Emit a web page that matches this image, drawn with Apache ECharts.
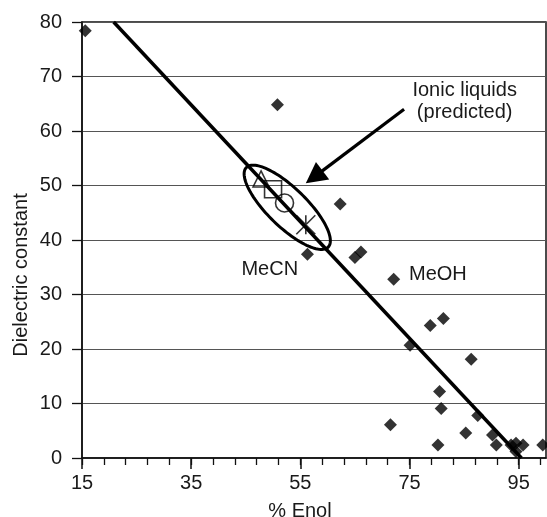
<!DOCTYPE html>
<html><head><meta charset="utf-8">
<script src="https://cdn.jsdelivr.net/npm/echarts@6/dist/echarts.min.js"></script>
<style>html,body{margin:0;padding:0;background:#fff}#c{width:547px;height:517px}</style>
</head><body><div id="c"></div>
<script>
// ---- data ----
const solventEnol = [15.6, 50.8, 62.3, 56.3, 65.0, 66.1, 72.1, 78.8, 81.2, 75.1, 86.3, 80.5, 80.8, 87.5, 71.5, 85.3, 80.2, 90.2, 90.9, 93.6, 94.5, 95.8, 94.5, 99.4];
const solventDielectric = [78.4, 64.8, 46.6, 37.4, 36.8, 37.8, 32.8, 24.3, 25.6, 20.7, 18.1, 12.2, 9.1, 7.8, 6.1, 4.6, 2.4, 4.2, 2.4, 2.4, 2.7, 2.4, 1.2, 2.4];
const fitLineX = [20.8, 95.5];
const fitLineY = [80, 0];
const ionicTriangle = [47.8, 51.2];
const ionicSquare = [50.0, 49.3];
const ionicCircle = [52.1, 46.8];
const ionicStar = [56.0, 42.8];
const ellipseCenter = [52.6, 46.0];
const ellipseAxisEnd = [45.1, 53.3];
const ellipseAxisRatio = 0.34;
const arrowFrom = [74.0, 64.0];
const arrowTo = [56.0, 50.4];
const annotationTexts = ['MeCN', 'MeOH', 'Ionic liquids', '(predicted)'];
const annotationPos = [[49.4, 34.5], [74.9, 33.6], [85.1, 67.5], [85.1, 63.4]];
const annotationAlign = ['center', 'left', 'center', 'center'];
const xLabelValues = [15, 35, 55, 75, 95];
const xTickValues = [15, 19, 23, 27, 31, 35, 39, 43, 47, 51, 55, 59, 63, 67, 71, 75, 79, 83, 87, 91, 95, 99];
const yMin = 0, yMax = 80, yStep = 10;
const xMin = 15, xMax = 100;
const xTitle = '% Enol';
const yTitle = 'Dielectric constant';

const FONT = '"Liberation Sans", Arial, Helvetica, sans-serif';
const solvents = solventEnol.map((x, i) => [x, solventDielectric[i]]);
const fit = fitLineX.map((x, i) => [x, fitLineY[i]]);

const chart = echarts.init(document.getElementById('c'), null, {renderer: 'canvas'});

function renderAnnotations(params, api) {
  const children = [];
  // ellipse
  const c = api.coord(ellipseCenter), e = api.coord(ellipseAxisEnd);
  const a = Math.hypot(e[0] - c[0], e[1] - c[1]);
  const b = a * ellipseAxisRatio;
  const ang = Math.atan2(e[1] - c[1], e[0] - c[0]);
  const pts = [];
  for (let k = 0; k < 120; k++) {
    const t = k / 120 * Math.PI * 2;
    pts.push([c[0] + a * Math.cos(t) * Math.cos(ang) - b * Math.sin(t) * Math.sin(ang),
              c[1] + a * Math.cos(t) * Math.sin(ang) + b * Math.sin(t) * Math.cos(ang)]);
  }
  children.push({type: 'polygon', shape: {points: pts}, style: {fill: 'none', stroke: '#000', lineWidth: 3}});
  // arrow
  const p0 = api.coord(arrowFrom), p1 = api.coord(arrowTo);
  const d = Math.hypot(p1[0] - p0[0], p1[1] - p0[1]);
  const ux = (p1[0] - p0[0]) / d, uy = (p1[1] - p0[1]) / d;
  const headL = 21, headW = 11;
  const bx = p1[0] - ux * headL, by = p1[1] - uy * headL;
  children.push({type: 'line', shape: {x1: p0[0], y1: p0[1], x2: bx + ux * 2, y2: by + uy * 2}, style: {stroke: '#000', lineWidth: 3.2}});
  children.push({type: 'polygon', shape: {points: [[p1[0], p1[1]], [bx - uy * headW, by + ux * headW], [bx + uy * headW, by - ux * headW]]}, style: {fill: '#000'}});
  // texts
  annotationTexts.forEach((t, i) => {
    const p = api.coord(annotationPos[i]);
    children.push({type: 'text', x: p[0], y: p[1], style: {text: t, fill: '#1a1a1a', font: '20px ' + FONT, align: annotationAlign[i], verticalAlign: 'middle'}});
  });
  return {type: 'group', children};
}

chart.setOption({
  animation: false,
  backgroundColor: '#fff',
  grid: {left: 82, right: 1, top: 22, bottom: 59, show: true, borderColor: '#111', borderWidth: 1.5, containLabel: false},
  xAxis: [{
    type: 'value', min: xMin, max: xMax, position: 'bottom',
    axisLine: {show: true, onZero: false, lineStyle: {color: '#111', width: 1.5}},
    axisTick: {show: true, customValues: xTickValues, length: 7, lineStyle: {color: '#111', width: 1.3}},
    axisLabel: {show: false},
    splitLine: {show: false}
  }, {
    type: 'value', min: xMin, max: xMax, position: 'bottom',
    axisLine: {show: false},
    axisTick: {show: true, customValues: xLabelValues, length: 11, lineStyle: {color: '#111', width: 1.5}},
    axisLabel: {show: true, customValues: xLabelValues, margin: 15, color: '#1a1a1a', fontSize: 20, fontFamily: FONT},
    splitLine: {show: false}
  }],
  yAxis: {
    type: 'value', min: yMin, max: yMax, interval: yStep,
    axisLine: {show: true, lineStyle: {color: '#111', width: 1.5}},
    axisTick: {show: true, length: 10, lineStyle: {color: '#111', width: 1.3}},
    axisLabel: {margin: 20, color: '#1a1a1a', fontSize: 20, fontFamily: FONT},
    splitLine: {show: true, lineStyle: {color: '#555', width: 1.2}}
  },
  graphic: [
    {type: 'text', x: 21, y: 275, rotation: Math.PI / 2, style: {text: yTitle, fill: '#1a1a1a', font: '20px ' + FONT, align: 'center', verticalAlign: 'middle'}},
    {type: 'text', x: 300, y: 511, style: {text: xTitle, fill: '#1a1a1a', font: '20px ' + FONT, align: 'center', verticalAlign: 'middle'}}
  ],
  series: [
    {type: 'line', data: fit, symbol: 'none', lineStyle: {color: '#000', width: 3.5}, z: 3, silent: true},
    {type: 'scatter', data: solvents, symbol: 'diamond', symbolSize: 13, itemStyle: {color: '#000'}, z: 4},
    {type: 'scatter', data: [ionicTriangle], symbol: 'triangle', symbolSize: [16, 16], itemStyle: {color: 'rgba(0,0,0,0)', borderColor: '#000', borderWidth: 1.6}, z: 5},
    {type: 'scatter', data: [ionicSquare], symbol: 'rect', symbolSize: 17, itemStyle: {color: 'rgba(0,0,0,0)', borderColor: '#000', borderWidth: 1.6}, z: 5},
    {type: 'scatter', data: [ionicCircle], symbol: 'circle', symbolSize: 18, itemStyle: {color: 'rgba(0,0,0,0)', borderColor: '#000', borderWidth: 1.6}, z: 5},
    {type: 'scatter', data: [ionicStar], symbol: 'path://M0,0L20,20M20,0L0,20M10,0L10,20', symbolSize: 19, itemStyle: {color: 'rgba(0,0,0,0)', borderColor: '#000', borderWidth: 1.6}, z: 5},
    {type: 'custom', data: [[0, 0]], renderItem: renderAnnotations, clip: false, z: 6, silent: true}
  ]
});
</script>
</body></html>
